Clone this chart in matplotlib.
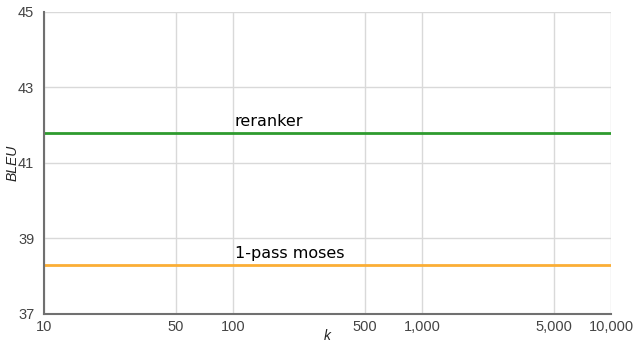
import matplotlib
matplotlib.use("Agg")
import matplotlib.pyplot as plt
from matplotlib.ticker import FixedLocator, FixedFormatter

# k range and BLEU scores for the two systems
k_values = [10, 10000]
reranker_bleu = [41.8, 41.8]
moses_bleu = [38.3, 38.3]

x_ticks = [10, 50, 100, 500, 1000, 5000, 10000]
x_tick_labels = ["10", "50", "100", "500", "1,000", "5,000", "10,000"]
y_ticks = [37, 39, 41, 43, 45]

fig = plt.figure(figsize=(6.33, 3.42), dpi=100)
ax = fig.add_axes([0.0695, 0.0819, 0.8958, 0.8831])

ax.plot(k_values, reranker_bleu, color="#2e9b2e", lw=2, solid_capstyle="butt")
ax.plot(k_values, moses_bleu, color="#fbae35", lw=2, solid_capstyle="butt")

ax.text(102, reranker_bleu[0] + 0.1, "reranker", fontsize=11.5, color="black",
        family="DejaVu Sans", va="bottom", ha="left")
ax.text(102, moses_bleu[0] + 0.1, "1-pass moses", fontsize=11.5, color="black",
        family="DejaVu Sans", va="bottom", ha="left")

ax.set_xscale("log")
ax.set_xlim(10, 10000)
ax.set_ylim(37, 45)
ax.xaxis.set_major_locator(FixedLocator(x_ticks))
ax.xaxis.set_major_formatter(FixedFormatter(x_tick_labels))
ax.xaxis.set_minor_locator(FixedLocator([]))
ax.set_yticks(y_ticks)

ax.grid(True, color="#d9d9d9", lw=1)
ax.set_axisbelow(True)
for side in ["top", "right"]:
    ax.spines[side].set_visible(False)
for side in ["left", "bottom"]:
    ax.spines[side].set_color("#707070")
    ax.spines[side].set_linewidth(1.5)

ax.tick_params(length=0, labelsize=10.5, labelcolor="#444444")
ax.tick_params(axis="x", pad=4)
ax.tick_params(axis="y", pad=7)
for lbl in ax.get_xticklabels() + ax.get_yticklabels():
    lbl.set_family("Liberation Sans")

ax.set_xlabel("k", fontsize=10, style="italic", family="Liberation Sans",
              color="#222222", va="center")
ax.xaxis.set_label_coords(0.5, -0.073)
ax.set_ylabel("BLEU", fontsize=10, style="italic", family="Liberation Sans",
              color="#222222", labelpad=-1)

fig.savefig("out.png", dpi=100)
